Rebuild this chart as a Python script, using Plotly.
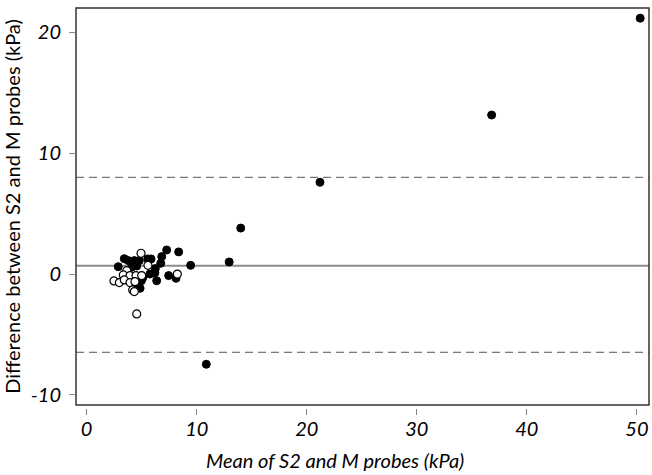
import plotly.graph_objects as go

# Filled points (mean, difference)
filled_x = [2.87, 3.42, 3.78, 4.33, 4.78, 4.55, 4.09, 5.85, 5.55, 6.82, 7.27, 8.36, 9.45,
            6.73, 6.24, 5.75, 6.2, 6.36, 7.45, 8.12, 4.97, 4.85, 4.6, 5.1,
            10.87, 12.95, 14.0, 21.2, 36.8, 50.3]
filled_y = [0.61, 1.27, 1.11, 1.11, 1.11, 0.67, 0.56, 1.25, 1.25, 1.44, 1.99, 1.83, 0.72,
            0.89, 0.45, 0.0, 0.1, -0.55, -0.13, -0.35, -0.55, -1.18, -0.9, -0.3,
            -7.46, 1.0, 3.8, 7.59, 13.15, 21.16]

# Open points
open_x = [4.94, 5.57, 3.64, 3.33, 3.94, 4.48, 5.0, 2.48, 2.97, 3.42, 3.94, 4.39, 4.18, 4.33, 4.55, 8.24]
open_y = [1.72, 0.72, 0.28, -0.07, -0.13, -0.13, -0.13, -0.57, -0.71, -0.49, -0.71, -0.63, -1.31, -1.45, -3.3, 0.0]

mean_diff = 0.69
upper_loa = 8.0
lower_loa = -6.47

x_ticks = [0, 10, 20, 30, 40, 50]
x_ticktext = ["<i>0</i>", "<i>10</i>", "<i>20</i>", "<i>30</i>", "<i>40</i>", "<i>50</i>"]
y_ticks = [-10, 0, 10, 20]
y_ticktext = ["<i>-10</i>", "<i>0</i>", "<i>10</i>", "<i>20</i>"]

FONT = "Lato"

fig = go.Figure()

fig.add_trace(go.Scatter(x=filled_x, y=filled_y, mode="markers",
                         marker=dict(size=8, color="black", line=dict(color="black", width=1)),
                         showlegend=False, cliponaxis=False))
fig.add_trace(go.Scatter(x=open_x, y=open_y, mode="markers",
                         marker=dict(size=8, color="white", line=dict(color="black", width=1.2)),
                         showlegend=False, cliponaxis=False))

# Reference lines
fig.add_shape(type="line", xref="x domain", yref="y", x0=0, x1=1, y0=mean_diff, y1=mean_diff,
              line=dict(color="#8c8c8c", width=2), layer="below")
for v in (upper_loa, lower_loa):
    fig.add_shape(type="line", xref="x domain", yref="y", x0=0, x1=1, y0=v, y1=v,
                  line=dict(color="#555555", width=1, dash="8px,5px"), layer="below")

# Box
fig.add_shape(type="rect", xref="x domain", yref="y domain", x0=0, x1=1, y0=0, y1=1,
              line=dict(color="#333333", width=1.5), fillcolor="rgba(0,0,0,0)")

# X axis title (slightly left of plot centre, as in the reference)
fig.add_annotation(text="<i>Mean of S2 and M probes (kPa)</i>", xref="paper", yref="paper",
                   x=0.452, y=-0.13, xanchor="center", yanchor="middle", showarrow=False,
                   font=dict(family=FONT, size=20, color="black"))

fig.update_layout(
    width=652, height=475,
    margin=dict(l=76, r=3, t=8, b=67, autoexpand=False),
    paper_bgcolor="white", plot_bgcolor="white",
    font=dict(family=FONT, size=20, color="black"),
    xaxis=dict(range=[-0.97, 51.1], tickvals=x_ticks, ticktext=x_ticktext, ticks="outside", ticklen=6,
               tickcolor="#888888", tickwidth=1.2, showgrid=False, zeroline=False,
               showline=False, anchor="free", position=0, automargin=False,
               ticklabelstandoff=-3,
               tickfont=dict(family=FONT, size=20)),
    yaxis=dict(range=[-10.83, 22.0], domain=[0.0075, 1], tickvals=y_ticks, ticktext=y_ticktext,
               ticks="outside", ticklen=6, tickcolor="#888888", tickwidth=1.2,
               showgrid=False, zeroline=False, showline=False, automargin=False,
               ticklabelstandoff=4,
               tickfont=dict(family=FONT, size=20),
               title=dict(text="Difference between S2 and M probes (kPa)",
                          font=dict(family=FONT, size=20), standoff=6)),
)

fig.write_html("out.html", config={"displayModeBar": False},
               post_script="document.body.style.margin='0';")
